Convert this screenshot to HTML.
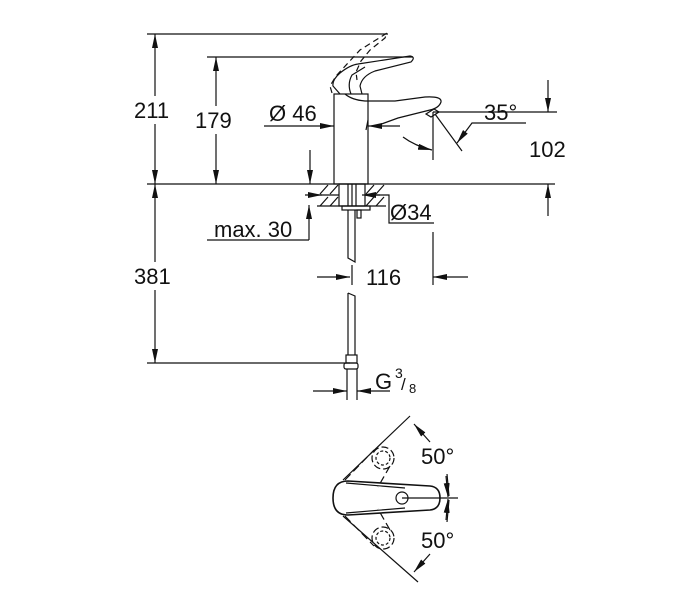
<!DOCTYPE html>
<html><head><meta charset="utf-8"><style>
html,body{margin:0;padding:0;background:#fff;width:684px;height:609px;overflow:hidden}
svg{display:block}
text{font-family:"Liberation Sans",Arial,sans-serif;font-size:22px;fill:#111}
</style></head><body>
<svg width="684" height="609" viewBox="0 0 684 609" xmlns="http://www.w3.org/2000/svg">
<defs>
<marker id="a" viewBox="0 0 14 6" refX="14" refY="3" markerWidth="14" markerHeight="6" markerUnits="userSpaceOnUse" orient="auto"><path d="M0,0L14,3L0,6z" fill="#111"/></marker>
</defs>
<g stroke="#111" stroke-width="1.2" fill="none">
<line x1="147" y1="34" x2="388" y2="34"/>
<line x1="207" y1="57" x2="413" y2="57"/>
<line x1="147" y1="184" x2="555" y2="184"/>
<line x1="147" y1="363" x2="350" y2="363"/>
<line x1="433" y1="112" x2="557" y2="112"/>
<line x1="155" y1="96" x2="155" y2="34" marker-end="url(#a)"/>
<line x1="155" y1="124" x2="155" y2="184" marker-end="url(#a)"/>
<line x1="155" y1="262" x2="155" y2="184" marker-end="url(#a)"/>
<line x1="155" y1="290" x2="155" y2="363" marker-end="url(#a)"/>
<line x1="216" y1="106" x2="216" y2="57" marker-end="url(#a)"/>
<line x1="216" y1="134" x2="216" y2="184" marker-end="url(#a)"/>
<line x1="310" y1="150" x2="310" y2="184" marker-end="url(#a)"/>
<line x1="309" y1="240" x2="309" y2="205" marker-end="url(#a)"/>
<polyline points="207,240 309,240"/>
<line x1="264" y1="126" x2="334" y2="126" marker-end="url(#a)"/>
<line x1="400" y1="126" x2="368" y2="126" marker-end="url(#a)"/>
<rect x="334" y="94" width="34" height="90"/>
<path d="M368,120 L366,130"/>
<path d="M345,94 Q352,100 365,101 L395,101 L425,97 Q442,96 441,102 Q439,108 430,110 L398,118 L376,126"/>
<path d="M426,114 l8,-5 l5,3 l-8,5z"/>
<path d="M340,94 L333,86 Q332,80 340,73 Q350,65 358,64 L410,56 Q416,57 411,62 L375,71 Q362,76 360,86 L362,94"/>
<path d="M351,94 Q347,84 352,75 L365,67"/>
<path d="M332,93 L330,86 L336,76 L360,50 L387,33 L385,38 L370,50 L361,61 L356,72 L357,80" stroke-dasharray="6,4"/>
<line x1="548" y1="80" x2="548" y2="112" marker-end="url(#a)"/>
<line x1="548" y1="216" x2="548" y2="184" marker-end="url(#a)"/>
<line x1="433" y1="112" x2="433" y2="160"/>
<line x1="435" y1="114" x2="462" y2="151"/>
<polyline points="526,123 472,123 457,143" marker-end="url(#a)"/>
<path d="M403,137 Q415,146 432,150" marker-end="url(#a)"/>
<line x1="317" y1="206" x2="386" y2="206"/>
<line x1="317" y1="195" x2="339" y2="195"/>
<line x1="365" y1="195" x2="386" y2="195"/>
<path d="M320,194 l8,-9 M330,194 l8,-9 M320,206 l8,-9 M330,206 l8,-9 M366,194 l8,-9 M376,194 l8,-9 M366,206 l8,-9 M376,206 l8,-9"/>
<rect x="339" y="184" width="26" height="22"/>
<line x1="348" y1="184" x2="348" y2="206"/><line x1="352" y1="184" x2="352" y2="206"/><line x1="356" y1="184" x2="356" y2="206"/>
<line x1="305" y1="195" x2="322" y2="195" marker-end="url(#a)"/>
<line x1="380" y1="195" x2="362" y2="195" marker-end="url(#a)"/>
<rect x="342" y="206" width="28" height="4"/>
<polyline points="386,195 389,195 389,223 434,223"/>
<path d="M348,210 L348,258 L355,262 L355,210"/>
<rect x="357" y="210" width="4" height="8"/>
<path d="M348,293 L355,296 L355,355 M348,293 L348,355"/>
<rect x="346" y="355" width="11" height="8"/>
<rect x="344" y="363" width="14" height="6" rx="2"/>
<line x1="347" y1="369" x2="347" y2="400"/><line x1="357" y1="369" x2="357" y2="400"/>
<line x1="313" y1="391" x2="347" y2="391" marker-end="url(#a)"/>
<line x1="390" y1="391" x2="357" y2="391" marker-end="url(#a)"/>
<line x1="317" y1="277" x2="350" y2="277" marker-end="url(#a)"/>
<line x1="352" y1="265" x2="352" y2="285"/>
<line x1="433" y1="232" x2="433" y2="285"/>
<line x1="468" y1="277" x2="433" y2="277" marker-end="url(#a)"/>
<path d="M348,481 Q333,481 333,498 Q333,515 348,515 L430,510 Q440,509 440,498 Q440,487 430,486 Z" stroke-width="1.6"/>
<path d="M346,483 L405,488 M346,513 L405,508"/>
<circle cx="402" cy="498" r="6"/>
<line x1="402" y1="498" x2="458" y2="498"/>
<circle cx="383" cy="458" r="7" stroke-dasharray="3,2"/>
<circle cx="383" cy="458" r="11" stroke-dasharray="7,3"/>
<circle cx="383" cy="538" r="7" stroke-dasharray="3,2"/>
<circle cx="383" cy="538" r="11" stroke-dasharray="7,3"/>
<path d="M345,480 L374,450 M390,466 L378,487 M345,516 L374,546 M390,530 L378,509" stroke-dasharray="8,4"/>
<line x1="410" y1="416" x2="343" y2="480"/>
<line x1="343" y1="516" x2="418" y2="582"/>
<path d="M447,474 L449,496 M449,500 L447,522"/>
<line x1="446" y1="476" x2="448" y2="497" marker-end="url(#a)"/>
<line x1="446" y1="520" x2="448" y2="499" marker-end="url(#a)"/>
<line x1="430" y1="442" x2="414" y2="424" marker-end="url(#a)"/>
<line x1="430" y1="554" x2="414" y2="572" marker-end="url(#a)"/>
</g>
<text x="134" y="118">211</text>
<text x="195" y="128">179</text>
<text x="269" y="121">Ø 46</text>
<text x="484" y="120">35°</text>
<text x="529" y="157">102</text>
<text x="390" y="220">Ø34</text>
<text x="214" y="237">max. 30</text>
<text x="134" y="284">381</text>
<text x="366" y="285">116</text>
<text x="375" y="389">G</text>
<text x="395" y="378" style="font-size:14px">3</text>
<text x="401" y="390" style="font-size:17px">/</text>
<text x="409" y="393" style="font-size:13px">8</text>
<text x="421" y="464">50°</text>
<text x="421" y="548">50°</text>
</svg>
</body></html>
